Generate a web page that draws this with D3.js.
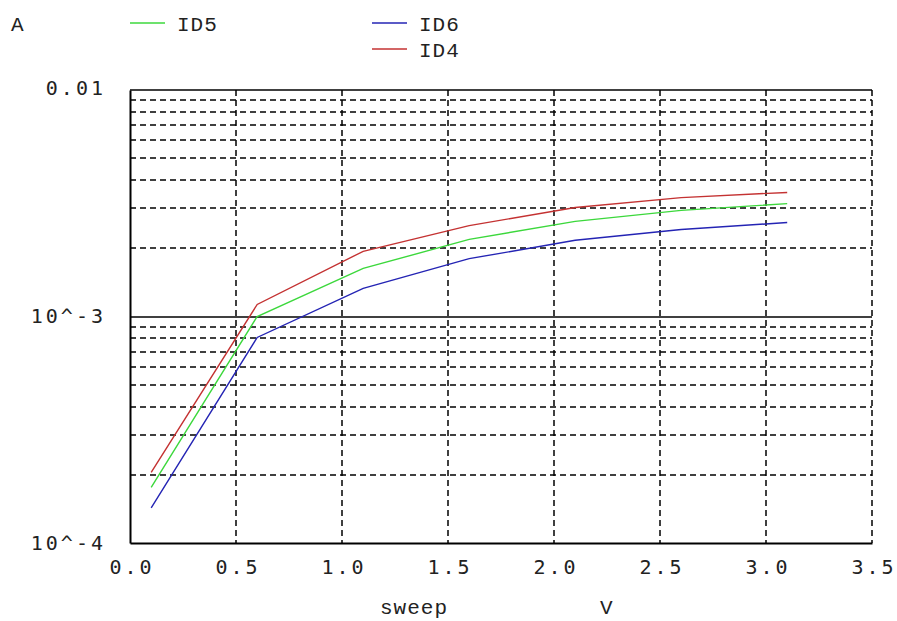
<!DOCTYPE html>
<html><head><meta charset="utf-8">
<script src="https://cdn.jsdelivr.net/npm/d3@7"></script>
<style>
html,body{margin:0;padding:0;background:#fff;}
svg{display:block;}
.num{font-family:"DejaVu Sans Mono",monospace;font-size:20px;fill:#222;letter-spacing:3px;}
.lab{font-family:"Liberation Mono","Courier New",monospace;font-size:21px;fill:#222;letter-spacing:1px;}
</style></head>
<body>
<script>
// ---- data ----
const sweepV = [0.1, 0.6, 1.1, 1.6, 2.1, 2.6, 3.1];
const id5 = [1.76e-4, 1.00e-3, 1.63e-3, 2.19e-3, 2.63e-3, 2.94e-3, 3.15e-3];
const id6 = [1.43e-4, 8.08e-4, 1.33e-3, 1.80e-3, 2.17e-3, 2.42e-3, 2.60e-3];
const id4 = [2.05e-4, 1.13e-3, 1.94e-3, 2.52e-3, 3.03e-3, 3.35e-3, 3.53e-3];
const seriesNames = ["ID5", "ID6", "ID4"];
const xTicks = [0, 0.5, 1.0, 1.5, 2.0, 2.5, 3.0, 3.5];
const xTickLabels = ["0.0","0.5","1.0","1.5","2.0","2.5","3.0","3.5"];
const yTicks = [1e-4, 1e-3, 1e-2];
const yTickLabels = ["10^-4", "10^-3", "0.01"];
const yMinor = [2e-4,3e-4,4e-4,5e-4,6e-4,7e-4,8e-4,9e-4,2e-3,3e-3,4e-3,5e-3,6e-3,7e-3,8e-3,9e-3];
const yUnit = "A", xName = "sweep", xUnit = "V";

const colors = {ID5:"#3cd83c", ID6:"#2424b4", ID4:"#c43232"};
const data = {ID5:id5, ID6:id6, ID4:id4};

const W = 897, H = 621;
const L = 130, R = 872, T = 90, B = 543;
const svg = d3.select("body").append("svg").attr("width", W).attr("height", H);
const x = d3.scaleLinear().domain([0, 3.5]).range([L, R]);
const y = d3.scaleLog().domain([1e-4, 1e-2]).range([B, T]);
const px = v => Math.round(v);

// grid: horizontal minor dashed
svg.append("g").selectAll("line").data(yMinor).join("line")
  .attr("x1", L).attr("x2", R).attr("y1", d => px(y(d))).attr("y2", d => px(y(d)))
  .attr("stroke", "#000").attr("stroke-width", 1.5).attr("stroke-dasharray", "6,4");
// vertical dashed grid
svg.append("g").selectAll("line").data(xTicks.slice(1)).join("line")
  .attr("x1", d => px(x(d))).attr("x2", d => px(x(d))).attr("y1", T).attr("y2", B)
  .attr("stroke", "#000").attr("stroke-width", 1.5).attr("stroke-dasharray", "6,4");
// solid decade line 1e-3 and top
svg.append("g").selectAll("line").data([1e-3, 1e-2]).join("line")
  .attr("x1", L).attr("x2", R).attr("y1", d => px(y(d))).attr("y2", d => px(y(d)))
  .attr("stroke", "#000").attr("stroke-width", 1.5);

// axes
const xAxis = d3.axisBottom(x).tickValues(xTicks).tickSize(0).tickPadding(17)
  .tickFormat((d, i) => xTickLabels[i]);
const gx = svg.append("g").attr("transform", `translate(0,${B})`).call(xAxis);
gx.select(".domain").attr("stroke", "#000").attr("stroke-width", 2);
gx.selectAll("text").attr("class", "num").attr("fill", null).attr("font-size", null).attr("font-family", null)
  .attr("dx", "1.5px");

const yAxis = d3.axisLeft(y).tickValues(yTicks).tickSize(0).tickPadding(24)
  .tickFormat((d, i) => yTickLabels[i]);
const gy = svg.append("g").attr("transform", `translate(${L},0)`).call(yAxis);
gy.select(".domain").attr("stroke", "#000").attr("stroke-width", 2);
gy.selectAll("text").attr("class", "num").attr("fill", null).attr("font-size", null).attr("font-family", null)
  .attr("dy", "0.3em");
gy.select(".tick:last-of-type text").attr("dy", "0.2em");

// lines
const line = d3.line().x((d, i) => x(sweepV[i])).y(d => y(d));
seriesNames.forEach(n => {
  svg.append("path").datum(data[n]).attr("d", line)
    .attr("fill", "none").attr("stroke", colors[n]).attr("stroke-width", 1.4);
});

// legend
const legPos = {ID5:[130, 23], ID6:[372, 23], ID4:[372, 49]};
seriesNames.forEach(n => {
  const [lx, ly] = legPos[n];
  svg.append("line").attr("x1", lx).attr("x2", lx + 35).attr("y1", ly).attr("y2", ly)
    .attr("stroke", colors[n]).attr("stroke-width", 1.6);
  svg.append("text").attr("class", "lab").attr("x", lx + 47).attr("y", ly + 8).text(n);
});
svg.append("text").attr("class", "lab").attr("x", 11).attr("y", 31).text(yUnit);
svg.append("text").attr("class", "lab").attr("x", 380).attr("y", 614).text(xName);
svg.append("text").attr("class", "lab").attr("x", 600).attr("y", 614).text(xUnit);
</script>
</body></html>
